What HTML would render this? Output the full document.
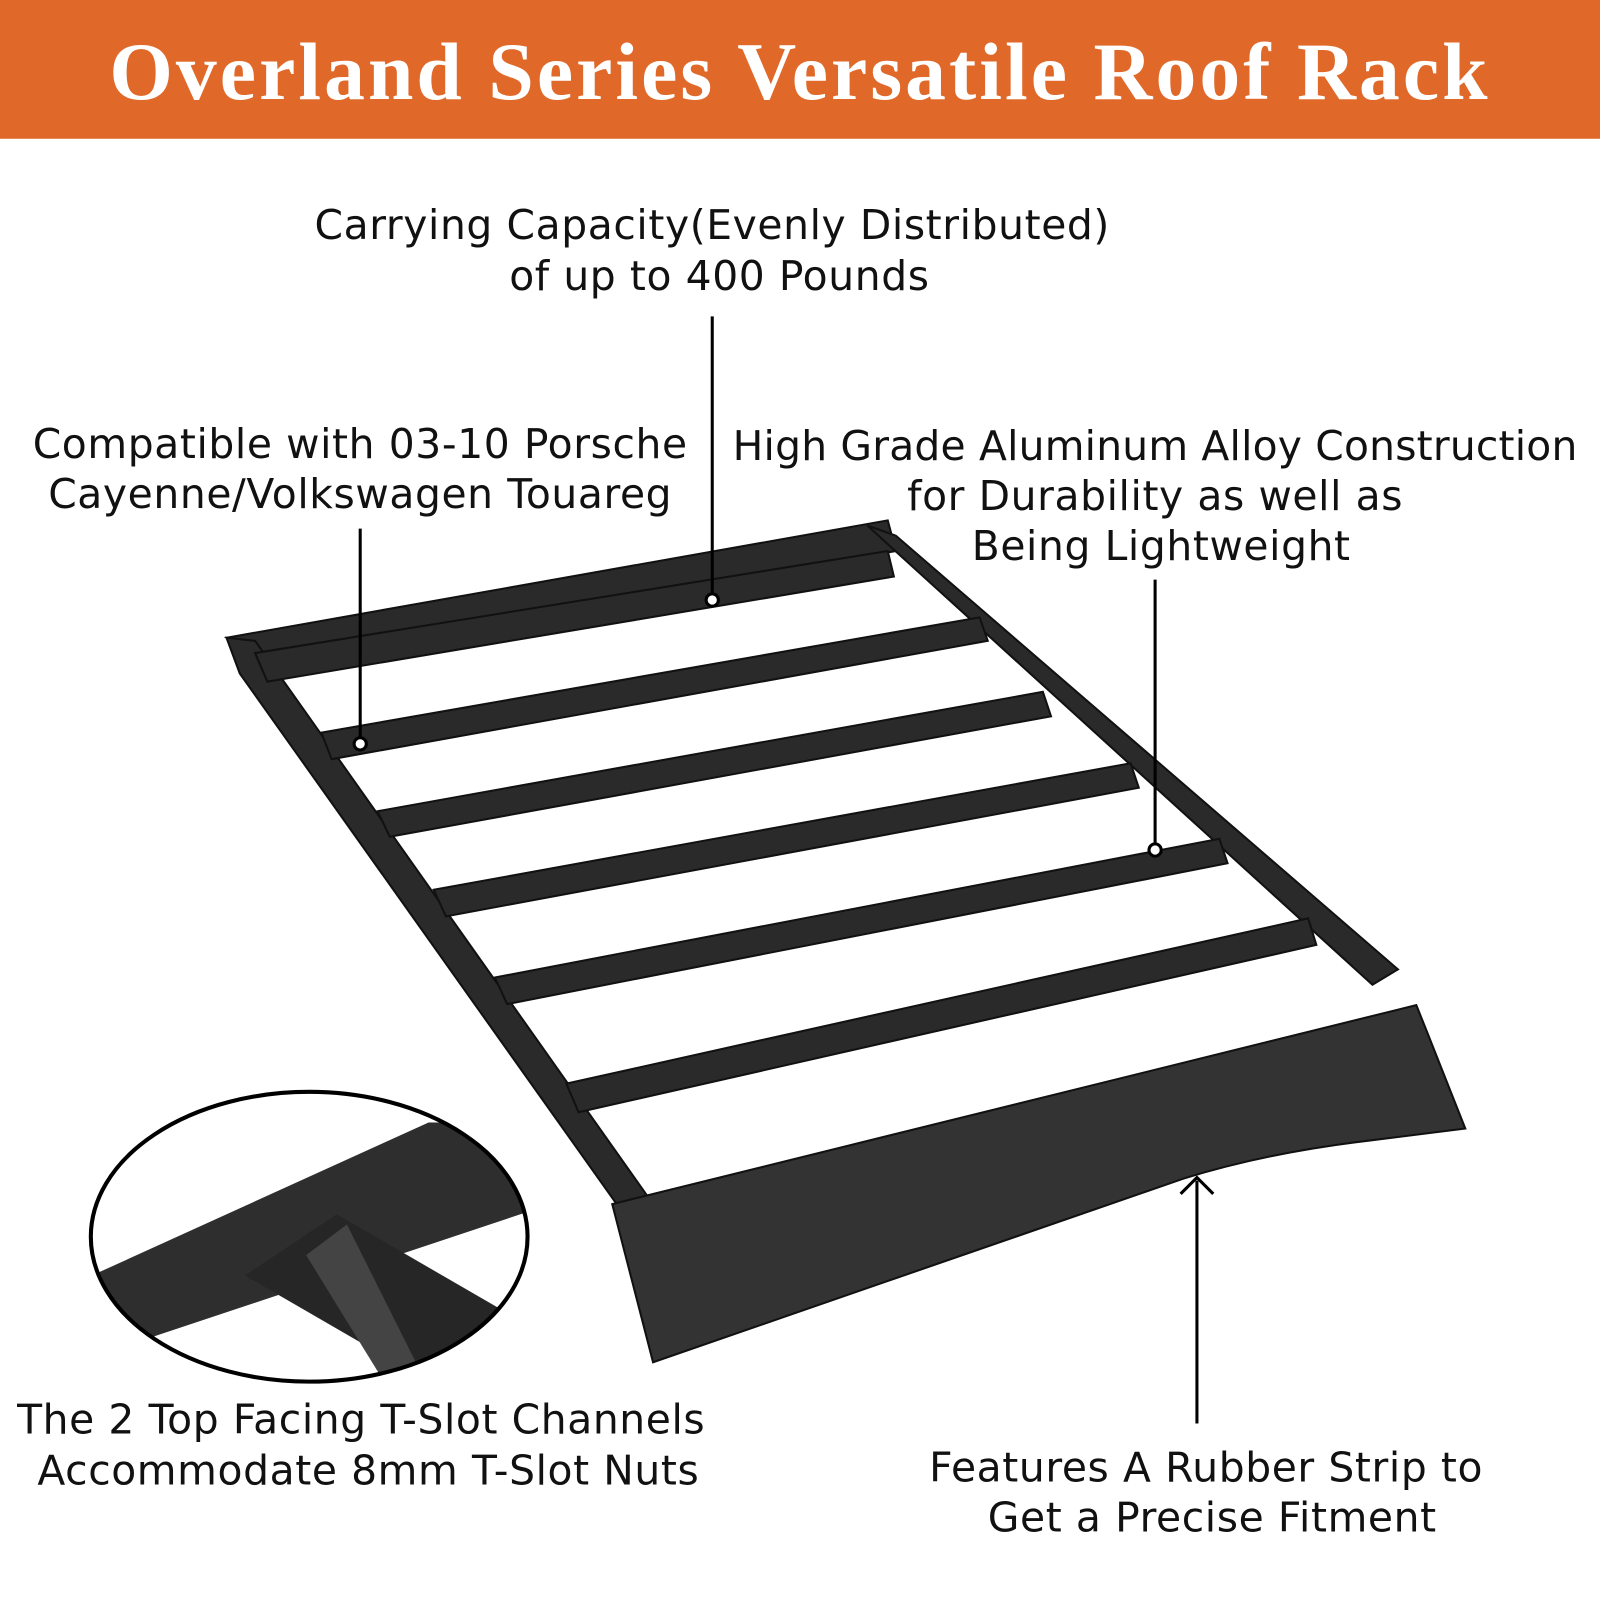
<!DOCTYPE html>
<html><head><style>
body{margin:0;width:1600px;height:1600px;overflow:hidden;background:#fff}
svg{display:block}
text{font-family:"DejaVu Sans","Liberation Sans",sans-serif;fill:#111}
</style></head><body>
<svg width="1600" height="1600" viewBox="0 0 1568 1568" xmlns="http://www.w3.org/2000/svg">
<rect x="0" y="0" width="1568" height="136" fill="#E0692A"/>
<text x="784" y="97" text-anchor="middle" style="font-family:'Liberation Serif',serif;font-weight:bold;font-size:80px;letter-spacing:3px;fill:#fff">Overland Series Versatile Roof Rack</text>
<g font-size="40" text-anchor="middle" letter-spacing="0.6">
<text x="698" y="234">Carrying Capacity(Evenly Distributed)</text>
<text x="705" y="284">of up to 400 Pounds</text>
<text x="353" y="449">Compatible with  03-10 Porsche</text>
<text x="353" y="498">Cayenne/Volkswagen Touareg</text>
<text x="1132" y="451" letter-spacing="0.2">High Grade Aluminum Alloy Construction</text>
<text x="1132" y="500">for Durability as well as</text>
<text x="1138" y="549">Being Lightweight</text>
<text x="354" y="1405">The 2 Top Facing T-Slot Channels</text>
<text x="361" y="1455">Accommodate 8mm T-Slot Nuts</text>
<text x="1182" y="1452">Features A Rubber Strip to</text>
<text x="1188" y="1501">Get a Precise Fitment</text>
</g>
<g fill="#2a2a2a" stroke="#111" stroke-width="2">
<polygon points="222,625 870,510 878,540 250,645"/>
<polygon points="222,625 250,628 640,1180 615,1195 235,660"/>
<polygon points="850,515 878,525 1370,950 1345,965"/>
<polygon points="250,640 870,540 876,565 262,668"/>
<polygon points="315,718 960,605 968,628 325,744"/>
<polygon points="370,795 1022,678 1030,702 382,820"/>
<polygon points="425,872 1108,748 1116,772 437,898"/>
<polygon points="485,958 1195,822 1203,846 497,984"/>
<polygon points="555,1062 1282,900 1290,926 567,1090"/>
<path d="M600,1180 L1388,985 L1398,1010 L1436,1106 L1340,1118 Q1240,1130 1160,1155 Q900,1245 640,1335 Z" fill="#333"/>
</g>
<defs><clipPath id="c"><ellipse cx="303" cy="1212" rx="214" ry="142"/></clipPath></defs>
<g clip-path="url(#c)">
<rect x="80" y="1060" width="450" height="300" fill="#fff"/>
<polygon points="90,1250 420,1100 540,1100 540,1180 120,1320 90,1320" fill="#2e2e2e"/>
<polygon points="240,1250 330,1190 520,1300 520,1360 430,1360" fill="#262626"/>
<polygon points="300,1230 340,1200 420,1360 380,1360" fill="#444"/>
</g>
<ellipse cx="303" cy="1212" rx="214" ry="142" fill="none" stroke="#000" stroke-width="4"/>
<g stroke="#000" stroke-width="3">
<line x1="698" y1="310" x2="698" y2="587"/>
<line x1="353" y1="518" x2="353" y2="728"/>
<line x1="1132" y1="568" x2="1132" y2="832"/>
<line x1="1173" y1="1157" x2="1173" y2="1395"/>
<polyline points="1157,1170 1173,1154 1189,1170" fill="none"/>
</g>
<g fill="#fff" stroke="#000" stroke-width="3">
<circle cx="698" cy="588" r="6"/><circle cx="353" cy="729" r="6"/><circle cx="1132" cy="833" r="6"/>
</g>
</svg>
</body></html>
